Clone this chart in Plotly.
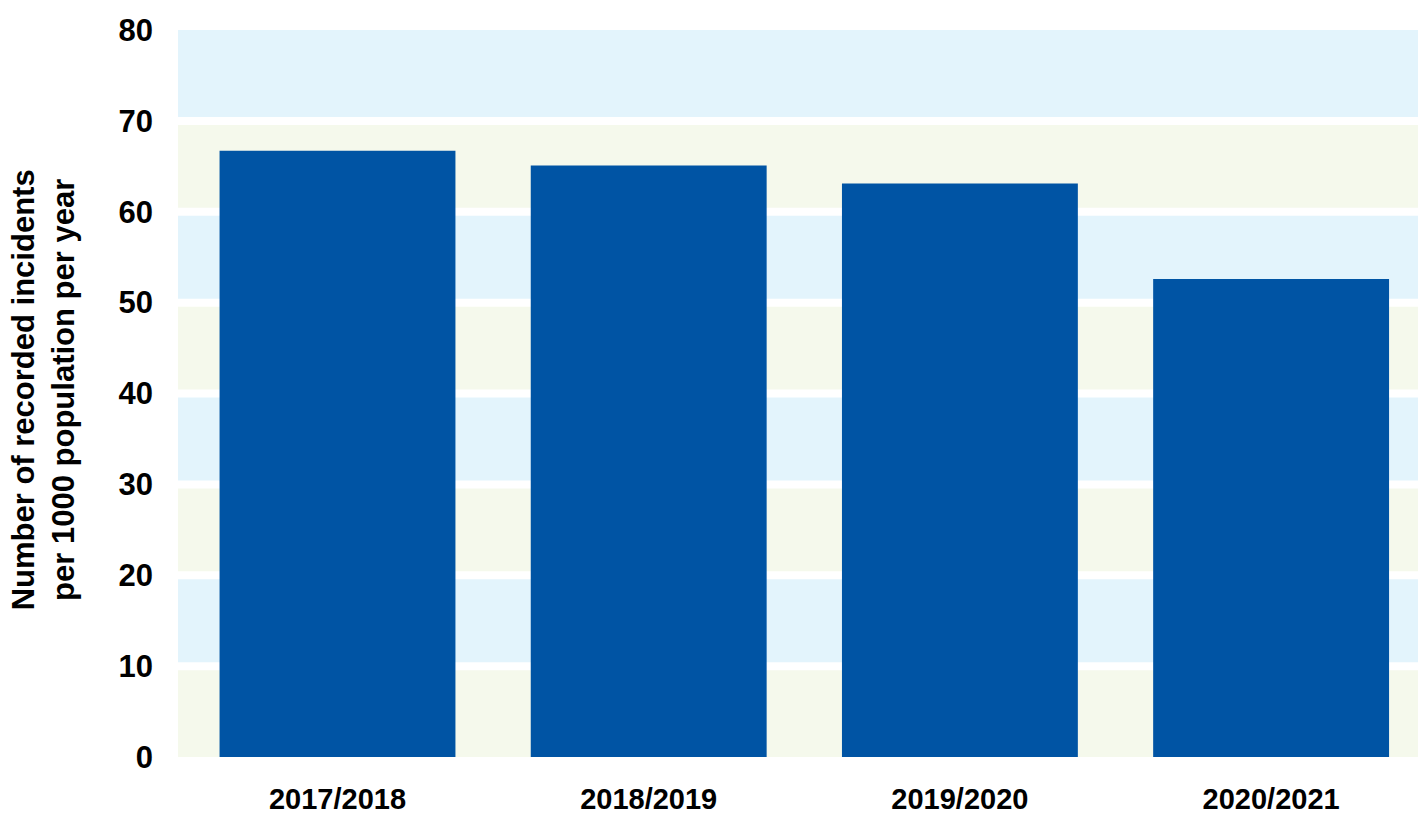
import plotly.graph_objects as go

# Recorded incidents per 1000 population, by financial year
years = ["2017/2018", "2018/2019", "2019/2020", "2020/2021"]
rates = [66.7, 65.1, 63.1, 52.6]

y_ticks = [0, 10, 20, 30, 40, 50, 60, 70, 80]

BAR_COLOR = "#0054A4"
BAND_BLUE = "#E3F4FC"
BAND_GREEN = "#F5F9EC"
FONT = "Liberation Sans, Arial, sans-serif"

fig = go.Figure(
    go.Bar(
        x=years,
        y=rates,
        marker=dict(color=BAR_COLOR, line=dict(width=0)),
        hoverinfo="x+y",
    )
)

# Alternating horizontal background bands, separated by white rules
shapes = []
for i, lo in enumerate(y_ticks[:-1]):
    shapes.append(dict(
        type="rect", xref="paper", yref="y", layer="below",
        x0=0, x1=1, y0=lo, y1=y_ticks[i + 1],
        fillcolor=BAND_GREEN if i % 2 == 0 else BAND_BLUE,
        line=dict(width=0),
    ))
for v in y_ticks[1:-1]:
    shapes.append(dict(
        type="line", xref="paper", yref="y", layer="below",
        x0=0, x1=1, y0=v, y1=v,
        line=dict(color="white", width=8),
    ))

fig.update_layout(
    width=1418,
    height=816,
    margin=dict(l=178, r=0, t=30, b=59),
    paper_bgcolor="white",
    plot_bgcolor="white",
    bargap=0.242,
    showlegend=False,
    shapes=shapes,
    font=dict(family=FONT, color="black"),
    xaxis=dict(
        range=[-0.5125, 3.472],
        showgrid=False,
        zeroline=False,
        showline=False,
        ticks="",
        tickfont=dict(size=29, family=FONT, weight="bold"),
        ticklabelstandoff=22,
        automargin=False,
    ),
    yaxis=dict(
        range=[0, 80],
        tickvals=y_ticks,
        showgrid=False,
        zeroline=False,
        showline=False,
        ticks="",
        tickfont=dict(size=31, family=FONT, weight="bold"),
        ticklabelstandoff=24,
        automargin=False,
    ),
    annotations=[dict(
        text="Number of recorded incidents<br>per 1000 population per year",
        xref="paper", yref="paper",
        x=-0.1085, y=0.505,
        xanchor="center", yanchor="middle",
        textangle=-90,
        showarrow=False,
        font=dict(size=31, family=FONT, weight="bold", color="black"),
    )],
)

fig.write_html("out.html")
